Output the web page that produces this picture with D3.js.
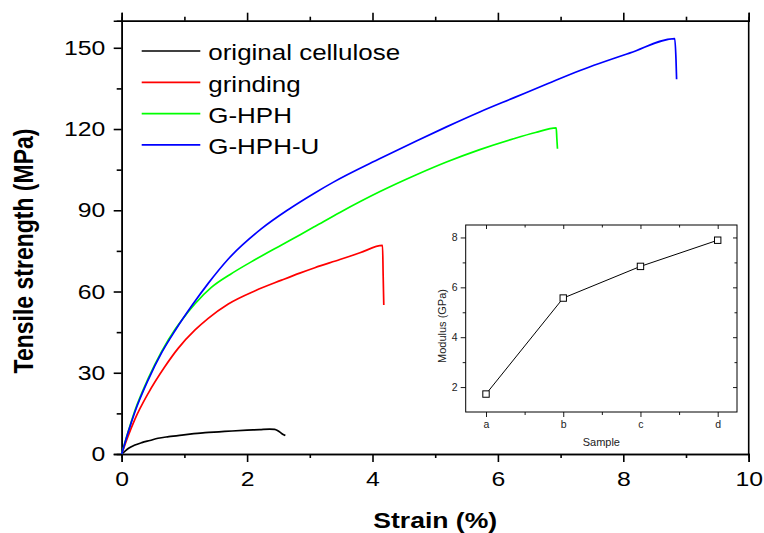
<!DOCTYPE html>
<html>
<head>
<meta charset="utf-8">
<script src="https://cdn.jsdelivr.net/npm/d3@7"></script>
<style>
  body { margin: 0; background: #fff; }
  svg { display: block; font-family: "Liberation Sans", Arial, sans-serif; }
</style>
</head>
<body>
<div id="chart"></div>
<script>
// strain (%) / tensile strength (MPa)
const originalCellulose = [[0,0],[0.05,1.0],[0.11,2.1],[0.2,3.2],[0.32,4.2],[0.45,5.0],[0.58,5.8],[0.75,6.4],[0.96,7.0],[1.15,7.5],[1.33,7.9],[1.55,8.2],[1.76,8.5],[2.0,8.8],[2.2,9.0],[2.36,9.2],[2.44,9.1],[2.49,8.6],[2.55,7.6],[2.61,6.8]];
const grinding = [[0,0],[0.1,6.5],[0.21,12.8],[0.425,22.5],[0.69,32.3],[0.9,39.0],[1.17,45.8],[1.38,50.1],[1.7,55.4],[2.13,60.3],[2.55,64.2],[2.84,66.8],[3.08,68.8],[3.48,71.8],[3.8,74.3],[4.16,77.0],[4.17,66],[4.18,55.0]];
const gHPH = [[0,0],[0.1,8],[0.21,16],[0.425,28],[0.64,38],[0.85,46],[0.96,49.5],[1.17,55.5],[1.43,61.5],[1.73,66.3],[2.13,71.8],[2.55,77.2],[2.84,80.9],[3.08,84.0],[3.48,89.2],[4.12,96.9],[4.7,103.1],[5.18,107.8],[5.7,112.3],[6.25,116.4],[6.6,118.7],[6.93,120.4],[6.94,116.5],[6.95,112.7]];
const gHPHU = [[0,0],[0.1,7.8],[0.21,15.5],[0.425,27.5],[0.64,37.5],[0.85,45.5],[1.12,54.8],[1.38,63.0],[1.7,72.0],[2.23,83.2],[2.66,90.3],[3.08,96.4],[3.37,100.3],[4.12,109.1],[4.7,115.6],[5.18,120.8],[5.71,126.3],[6.25,131.5],[6.8,136.8],[7.31,141.6],[8.11,148.1],[8.82,153.4],[8.84,146],[8.85,138.4]];

const seriesNames = ["original cellulose", "grinding", "G-HPH", "G-HPH-U"];
const seriesColors = ["#000000", "#ff0000", "#00ff00", "#0000ff"];
const seriesData = [originalCellulose, grinding, gHPH, gHPHU];

const xMajorTicks = [0, 2, 4, 6, 8, 10];
const xMinorTicks = [1, 3, 5, 7, 9];
const yMajorTicks = [0, 30, 60, 90, 120, 150];
const yMinorTicks = [15, 45, 75, 105, 135];

// inset: modulus per sample
const insetSamples = ["a", "b", "c", "d"];
const insetModulus = [1.72, 5.57, 6.84, 7.89];
const insetYMajor = [2, 4, 6, 8];
const insetYMinor = [3, 5, 7];

const width = 764, height = 533;
const SX = 1.18; // the picture is a bit wider than its type
const margin = { top: 20.7, right: 15.3, bottom: 79, left: 121.7 };
const innerW = width - margin.left - margin.right;
const innerH = height - margin.top - margin.bottom;

const svg = d3.select("#chart").append("svg")
    .attr("width", width)
    .attr("height", height);

const g = svg.append("g")
    .attr("transform", `translate(${margin.left},${margin.top})`);

const x = d3.scaleLinear().domain([0, 10]).range([0, innerW]);
const y = d3.scaleLinear().domain([0, 160]).range([innerH, 0]);

function styleAxis(sel, fontSize) {
    sel.select(".domain").attr("stroke", "#000").attr("stroke-width", 1.6);
    sel.selectAll(".tick line").attr("stroke", "#000").attr("stroke-width", 1.6);
    sel.selectAll(".tick text")
        .attr("fill", "#000")
        .style("font-size", fontSize + "px")
        .attr("transform", `scale(${SX},1)`);
}

// Bottom axis
g.append("g")
    .attr("transform", `translate(0,${innerH})`)
    .call(d3.axisBottom(x).tickValues(xMajorTicks).tickSize(8).tickPadding(9).tickFormat(d3.format("d")))
    .call(s => styleAxis(s, 21));
g.append("g")
    .attr("transform", `translate(0,${innerH})`)
    .call(d3.axisBottom(x).tickValues(xMinorTicks).tickSize(4).tickFormat(""))
    .call(s => styleAxis(s, 21));

// Top axis (ticks only)
g.append("g")
    .call(d3.axisTop(x).tickValues(xMajorTicks).tickSize(8).tickFormat(""))
    .call(s => styleAxis(s, 21));
g.append("g")
    .call(d3.axisTop(x).tickValues(xMinorTicks).tickSize(4).tickFormat(""))
    .call(s => styleAxis(s, 21));

// Left axis
g.append("g")
    .call(d3.axisLeft(y).tickValues(yMajorTicks).tickSize(8).tickPadding(6).tickFormat(d3.format("d")))
    .call(s => styleAxis(s, 21));
g.append("g")
    .call(d3.axisLeft(y).tickValues(yMinorTicks).tickSize(5).tickFormat(""))
    .call(s => styleAxis(s, 21));

// Right axis (line only)
g.append("line")
    .attr("x1", innerW).attr("x2", innerW)
    .attr("y1", 0).attr("y2", innerH)
    .attr("stroke", "#000").attr("stroke-width", 1.6);

// Axis titles
svg.append("text")
    .attr("transform", `translate(${margin.left + innerW / 2},528) scale(${SX},1)`)
    .attr("text-anchor", "middle")
    .style("font-size", "22.5px")
    .style("font-weight", "bold")
    .text("Strain (%)");

svg.append("text")
    .attr("transform", `translate(33,251) scale(${SX},1) rotate(-90)`)
    .attr("text-anchor", "middle")
    .style("font-size", "23px")
    .style("font-weight", "bold")
    .text("Tensile strength (MPa)");

// Curves
const line = d3.line()
    .x(d => x(d[0]))
    .y(d => y(d[1]))
    .curve(d3.curveMonotoneX);

g.selectAll(".curve")
    .data(seriesData)
    .enter()
    .append("path")
    .attr("class", "curve")
    .attr("d", line)
    .attr("fill", "none")
    .attr("stroke", (d, i) => seriesColors[i])
    .attr("stroke-width", 1.7)
    .attr("stroke-linejoin", "round");

// Legend
const legend = svg.append("g").attr("transform", "translate(141.7,51)");
const rows = legend.selectAll(".row")
    .data(seriesNames)
    .enter()
    .append("g")
    .attr("class", "row")
    .attr("transform", (d, i) => `translate(0,${i * 31.3})`);
rows.append("line")
    .attr("x1", 0).attr("x2", 58.6)
    .attr("y1", 0).attr("y2", 0)
    .attr("stroke", (d, i) => seriesColors[i])
    .attr("stroke-width", 1.7);
rows.append("text")
    .attr("transform", `translate(66.6,9.2) scale(${SX},1)`)
    .style("font-size", "22px")
    .text(d => d);

// Inset
const inset = { left: 465.7, top: 225, right: 737, bottom: 412 };
const ix = d3.scaleLinear().domain([-0.263, 3.25]).range([inset.left, inset.right]);
const iy = d3.scaleLinear().domain([1, 8.5]).range([inset.bottom, inset.top]);
const ig = svg.append("g");

ig.append("rect")
    .attr("x", inset.left).attr("y", inset.top)
    .attr("width", inset.right - inset.left)
    .attr("height", inset.bottom - inset.top)
    .attr("fill", "none")
    .attr("stroke", "#000")
    .attr("stroke-width", 1);

function styleInset(sel) {
    sel.select(".domain").remove();
    sel.selectAll(".tick line").attr("stroke", "#000").attr("stroke-width", 0.9);
    sel.selectAll(".tick text").attr("fill", "#222").style("font-size", "10.5px");
}

const xIdx = insetSamples.map((d, i) => i);
const xIdxMinor = [0.5, 1.5, 2.5];

ig.append("g").attr("transform", `translate(0,${inset.bottom})`)
    .call(d3.axisBottom(ix).tickValues(xIdx).tickSize(5).tickPadding(4).tickFormat(i => insetSamples[i]))
    .call(styleInset);
ig.append("g").attr("transform", `translate(0,${inset.bottom})`)
    .call(d3.axisBottom(ix).tickValues(xIdxMinor).tickSize(3).tickFormat(""))
    .call(styleInset);
ig.append("g").attr("transform", `translate(0,${inset.top})`)
    .call(d3.axisBottom(ix).tickValues(xIdx).tickSize(4).tickFormat(""))
    .call(styleInset);
ig.append("g").attr("transform", `translate(0,${inset.top})`)
    .call(d3.axisBottom(ix).tickValues(xIdxMinor).tickSize(2.5).tickFormat(""))
    .call(styleInset);

ig.append("g").attr("transform", `translate(${inset.left},0)`)
    .call(d3.axisLeft(iy).tickValues(insetYMajor).tickSize(5).tickPadding(3).tickFormat(d3.format("d")))
    .call(styleInset);
ig.append("g").attr("transform", `translate(${inset.left},0)`)
    .call(d3.axisLeft(iy).tickValues(insetYMinor).tickSize(3).tickFormat(""))
    .call(styleInset);
ig.append("g").attr("transform", `translate(${inset.right},0)`)
    .call(d3.axisLeft(iy).tickValues(insetYMajor).tickSize(4).tickFormat(""))
    .call(styleInset);
ig.append("g").attr("transform", `translate(${inset.right},0)`)
    .call(d3.axisLeft(iy).tickValues(insetYMinor).tickSize(2.5).tickFormat(""))
    .call(styleInset);

ig.append("text")
    .attr("x", (inset.left + inset.right) / 2)
    .attr("y", 446)
    .attr("text-anchor", "middle")
    .attr("fill", "#222")
    .style("font-size", "11px")
    .text("Sample");

ig.append("text")
    .attr("transform", `translate(446,326) rotate(-90)`)
    .attr("text-anchor", "middle")
    .attr("fill", "#222")
    .style("font-size", "11px")
    .text("Modulus (GPa)");

ig.append("path")
    .datum(insetModulus)
    .attr("d", d3.line().x((d, i) => ix(i)).y(d => iy(d)))
    .attr("fill", "none")
    .attr("stroke", "#000")
    .attr("stroke-width", 1);

ig.selectAll(".pt")
    .data(insetModulus)
    .enter()
    .append("rect")
    .attr("class", "pt")
    .attr("x", (d, i) => ix(i) - 3.2)
    .attr("y", d => iy(d) - 3.2)
    .attr("width", 6.4)
    .attr("height", 6.4)
    .attr("fill", "#fff")
    .attr("stroke", "#000")
    .attr("stroke-width", 1);
</script>
</body>
</html>
